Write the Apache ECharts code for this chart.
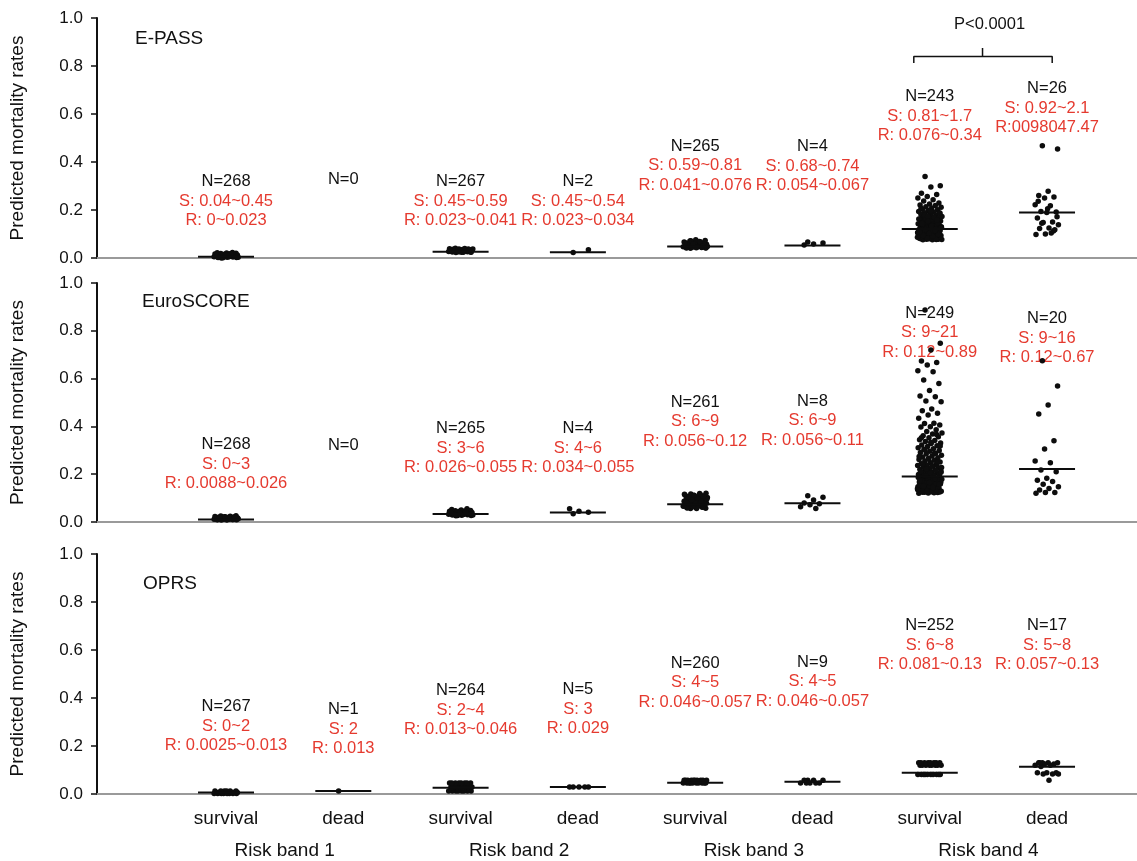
<!DOCTYPE html>
<html><head><meta charset="utf-8">
<script src="https://cdn.jsdelivr.net/npm/echarts@6/dist/echarts.min.js"></script>
<style>html,body{margin:0;padding:0;background:#fff}#c{width:1137px;height:861px}</style>
</head><body><div id="c"></div>
<script>
// ---------- DATA ----------
const categories = ['survival','dead','survival','dead','survival','dead','survival','dead'];
const bandLabels = ['Risk band 1','Risk band 2','Risk band 3','Risk band 4'];
const panelTitles = ['E-PASS','EuroSCORE','OPRS'];
const yAxisTitle = 'Predicted mortality rates';
const pText = 'P<0.0001';

// E-PASS
const epS1 = [0.000,0.002,0.003,0.004,0.004,0.005,0.005,0.006,0.006,0.007,0.008,0.009,0.010,0.011,0.012,0.013,0.014,0.015,0.016,0.017,0.018,0.019,0.020,0.021,0.022,0.023,0.001,0.003,0.005,0.007,0.009,0.012,0.015,0.018,0.004,0.006,0.011,0.002];
const epD1 = [];
const epS2 = [0.023,0.024,0.024,0.025,0.026,0.026,0.027,0.028,0.028,0.029,0.030,0.031,0.032,0.033,0.034,0.035,0.036,0.037,0.038,0.039,0.040,0.041,0.025,0.027,0.029,0.031,0.034,0.037,0.024,0.028,0.033,0.026];
const epD2 = [0.023,0.034];
const epS3 = [0.041,0.042,0.043,0.044,0.045,0.046,0.047,0.048,0.049,0.050,0.051,0.052,0.054,0.055,0.057,0.059,0.061,0.063,0.065,0.067,0.069,0.071,0.073,0.076,0.042,0.044,0.046,0.048,0.050,0.053,0.056,0.060,0.064,0.068,0.072,0.043,0.045,0.047,0.049,0.058];
const epD3 = [0.067,0.062,0.058,0.054];
const epS4 = [0.340,0.301,0.296,0.270,0.265,0.256,0.250,0.243,0.237,0.229,0.225,0.221,0.219,0.214,0.211,0.208,0.203,0.201,0.198,0.194,0.192,0.189,0.186,0.184,0.181,0.179,0.176,0.173,0.171,0.168,0.167,0.164,0.161,0.159,0.157,0.154,0.152,0.150,0.148,0.146,0.143,0.142,0.139,0.137,0.135,0.134,0.131,0.129,0.128,0.125,0.124,0.122,0.120,0.119,0.117,0.116,0.114,0.112,0.111,0.109,0.108,0.106,0.105,0.103,0.102,0.100,0.099,0.097,0.096,0.094,0.093,0.091,0.090,0.088,0.087,0.085,0.084,0.083,0.081,0.080,0.079,0.078,0.077,0.076,0.076,0.078,0.080,0.082,0.085,0.087,0.089,0.092,0.095,0.097,0.101,0.104,0.107,0.110,0.113,0.115,0.118,0.121,0.126,0.130,0.136,0.141,0.147,0.153,0.162,0.170,0.178,0.188,0.196,0.207,0.077,0.083,0.086,0.091,0.094,0.098,0.103,0.108,0.114,0.119,0.124,0.133,0.144,0.158,0.174];
const epD4 = [0.468,0.454,0.278,0.260,0.254,0.250,0.222,0.218,0.194,0.192,0.190,0.167,0.150,0.148,0.139,0.125,0.123,0.118,0.100,0.098,0.104,0.145,0.172,0.205,0.236,0.112];
const epMedian = [0.005,null,0.026,0.024,0.048,0.052,0.121,0.190];
const epN = [268,0,267,2,265,4,243,26];
const epS = ['S: 0.04~0.45','','S: 0.45~0.59','S: 0.45~0.54','S: 0.59~0.81','S: 0.68~0.74','S: 0.81~1.7','S: 0.92~2.1'];
const epR = ['R: 0~0.023','','R: 0.023~0.041','R: 0.023~0.034','R: 0.041~0.076','R: 0.054~0.067','R: 0.076~0.34','R:0098047.47'];

// EuroSCORE
const euS1 = [0.0088,0.009,0.0095,0.010,0.0105,0.011,0.0115,0.012,0.0125,0.013,0.014,0.015,0.016,0.017,0.018,0.019,0.020,0.021,0.022,0.023,0.024,0.025,0.026,0.0092,0.0098,0.0108,0.0122,0.0135,0.0155,0.0175,0.0195,0.0215];
const euD1 = [];
const euS2 = [0.026,0.027,0.028,0.029,0.030,0.031,0.032,0.033,0.034,0.035,0.036,0.037,0.038,0.039,0.040,0.041,0.042,0.043,0.044,0.045,0.046,0.047,0.048,0.050,0.052,0.055,0.027,0.029,0.031,0.033,0.035,0.038,0.041,0.044,0.028,0.032];
const euD2 = [0.034,0.041,0.045,0.055];
const euS3 = [0.056,0.058,0.060,0.061,0.063,0.064,0.066,0.067,0.069,0.070,0.072,0.073,0.075,0.076,0.078,0.079,0.081,0.083,0.085,0.087,0.089,0.091,0.093,0.095,0.097,0.099,0.101,0.103,0.105,0.107,0.109,0.111,0.113,0.115,0.117,0.120,0.057,0.059,0.062,0.065,0.068,0.071,0.074,0.077,0.080,0.084,0.088,0.092,0.096,0.100,0.104,0.108,0.112,0.116,0.119];
const euD3 = [0.110,0.104,0.092,0.080,0.076,0.072,0.064,0.056];
const euS4 = [0.887,0.748,0.720,0.674,0.667,0.657,0.633,0.629,0.594,0.580,0.550,0.527,0.524,0.506,0.503,0.473,0.466,0.455,0.448,0.434,0.413,0.412,0.406,0.399,0.398,0.386,0.379,0.372,0.368,0.361,0.357,0.352,0.344,0.341,0.337,0.331,0.328,0.322,0.319,0.316,0.311,0.307,0.304,0.299,0.296,0.291,0.288,0.284,0.279,0.276,0.272,0.269,0.266,0.262,0.258,0.255,0.251,0.248,0.244,0.241,0.239,0.236,0.233,0.229,0.227,0.224,0.221,0.218,0.215,0.213,0.210,0.207,0.205,0.202,0.199,0.197,0.194,0.192,0.189,0.187,0.184,0.182,0.179,0.177,0.174,0.172,0.169,0.167,0.164,0.162,0.159,0.157,0.154,0.152,0.149,0.147,0.145,0.142,0.140,0.138,0.136,0.133,0.131,0.129,0.127,0.125,0.123,0.121,0.120,0.122,0.124,0.126,0.128,0.131,0.134,0.137,0.139,0.143,0.146,0.149,0.153,0.156,0.160,0.163,0.166,0.171,0.175,0.178,0.183,0.186,0.191,0.195,0.201,0.206,0.211,0.217,0.222,0.228,0.235,0.243,0.252,0.263,0.274,0.287,0.301,0.318,0.334,0.352,0.366,0.128,0.135,0.144,0.151,0.158,0.165,0.173,0.181,0.193,0.208];
const euD4 = [0.675,0.569,0.490,0.452,0.340,0.305,0.255,0.248,0.218,0.210,0.183,0.175,0.169,0.158,0.148,0.140,0.134,0.123,0.123,0.120];
const euMedian = [0.010,null,0.033,0.040,0.074,0.078,0.190,0.222];
const euN = [268,0,265,4,261,8,249,20];
const euS = ['S: 0~3','','S: 3~6','S: 4~6','S: 6~9','S: 6~9','S: 9~21','S: 9~16'];
const euR = ['R: 0.0088~0.026','','R: 0.026~0.055','R: 0.034~0.055','R: 0.056~0.12','R: 0.056~0.11','R: 0.12~0.89','R: 0.12~0.67'];

// OPRS
const opS1 = [0.0025,0.0025,0.0025,0.0025,0.0025,0.0025,0.0025,0.0025,0.006,0.006,0.006,0.006,0.006,0.006,0.006,0.006,0.006,0.006,0.013,0.013,0.013,0.013,0.013,0.013];
const opD1 = [0.013];
const opS2 = [0.013,0.013,0.013,0.013,0.013,0.013,0.013,0.013,0.029,0.029,0.029,0.029,0.029,0.029,0.029,0.029,0.029,0.029,0.046,0.046,0.046,0.046,0.046,0.046,0.046,0.046];
const opD2 = [0.029,0.029,0.029,0.029,0.029];
const opS3 = [0.046,0.046,0.046,0.046,0.046,0.046,0.046,0.046,0.046,0.046,0.057,0.057,0.057,0.057,0.057,0.057,0.057,0.057,0.057,0.057];
const opD3 = [0.057,0.057,0.057,0.057,0.046,0.046,0.046,0.046,0.046];
const opS4 = [0.081,0.081,0.081,0.081,0.081,0.081,0.081,0.081,0.081,0.081,0.12,0.12,0.12,0.12,0.12,0.12,0.12,0.12,0.13,0.13,0.13,0.13,0.13,0.13,0.13,0.13];
const opD4 = [0.130,0.130,0.130,0.130,0.125,0.125,0.120,0.120,0.115,0.089,0.089,0.089,0.083,0.083,0.083,0.057,0.130];
const opMedian = [0.006,0.013,0.026,0.029,0.047,0.051,0.089,0.114];
const opN = [267,1,264,5,260,9,252,17];
const opS = ['S: 0~2','S: 2','S: 2~4','S: 3','S: 4~5','S: 4~5','S: 6~8','S: 5~8'];
const opR = ['R: 0.0025~0.013','R: 0.013','R: 0.013~0.046','R: 0.029','R: 0.046~0.057','R: 0.046~0.057','R: 0.081~0.13','R: 0.057~0.13'];

// ---------- LAYOUT (annotation anchors in axis units, not data) ----------
const epLabY = [0.236,0.326,0.236,0.236,0.385,0.382,0.590,0.625];
const euLabY = [0.241,0.319,0.308,0.308,0.420,0.424,0.792,0.769];
const opLabY = [0.283,0.271,0.350,0.354,0.464,0.468,0.621,0.621];

const FONT = '"Liberation Sans", Arial, Helvetica, sans-serif';
const INK = '#111111', RED = '#e53a2f', DOT = '#0d0d0d';
const XMIN = -1.1, XMAX = 7.767, JIT = 0.21;
const gridTops = [18, 283, 554], gridHeights = [240, 239, 240];
const titlePos = [[135,29],[142,292],[143,574]];

function jx(g, k) { return g + ((((k + 0.5) * 0.618034) % 1) - 0.5) * JIT; }

const panels = [
  {groups:[epS1,epD1,epS2,epD2,epS3,epD3,epS4,epD4], med:epMedian, N:epN, S:epS, R:epR, lab:epLabY},
  {groups:[euS1,euD1,euS2,euD2,euS3,euD3,euS4,euD4], med:euMedian, N:euN, S:euS, R:euR, lab:euLabY},
  {groups:[opS1,opD1,opS2,opD2,opS3,opD3,opS4,opD4], med:opMedian, N:opN, S:opS, R:opR, lab:opLabY}
];

const txt = (size, color) => ({fontSize:size, color:color, fontFamily:FONT, textBorderWidth:0, textBorderColor:'transparent', textShadowBlur:0, opacity:1});

const grid = [], xAxis = [], yAxis = [], series = [], title = [];
panels.forEach((p, i) => {
  grid.push({left:92, right:0, top:gridTops[i], height:gridHeights[i]});
  title.push({text:panelTitles[i], left:titlePos[i][0], top:titlePos[i][1], padding:0,
    textStyle:Object.assign(txt(19, INK), {fontWeight:'normal'})});
  xAxis.push({type:'value', gridIndex:i, min:XMIN, max:XMAX,
    axisLine:{show:true, lineStyle:{color:'#9a9a9a', width:2}},
    axisTick:{show:false}, splitLine:{show:false},
    axisLabel: i === 2 ? Object.assign({show:true, customValues:[0,1,2,3,4,5,6,7],
      formatter:(v) => categories[Math.round(v)], margin:15}, txt(19, INK))
      : {show:false}});
  yAxis.push({type:'value', gridIndex:i, min:0, max:1, interval:0.2,
    name:yAxisTitle, nameLocation:'middle', nameGap:70,
    nameTextStyle:txt(19, INK),
    axisLine:{show:true, onZero:false, lineStyle:{color:'#111', width:2}},
    axisTick:{show:true, length:6, lineStyle:{color:'#111', width:1.5}},
    axisLabel:Object.assign({margin:14, formatter:(v) => v.toFixed(1)}, txt(17, INK)),
    splitLine:{show:false}});

  const pts = [];
  p.groups.forEach((arr, g) => arr.forEach((v, k) => pts.push([jx(g, k), v])));
  series.push({type:'scatter', xAxisIndex:i, yAxisIndex:i, data:pts, symbolSize:5.5,
    itemStyle:{color:DOT, opacity:1}, z:3, silent:true});

  const med = [];
  p.med.forEach((m, g) => { if (m != null) med.push([g, m]); });
  series.push({type:'scatter', xAxisIndex:i, yAxisIndex:i, data:med, symbol:'rect',
    symbolSize:[56,2], itemStyle:{color:DOT, opacity:1}, z:4, silent:true});

  const ann = p.N.map((n, g) => ({
    value:[g, p.lab[g]],
    label:{formatter: n === 0 ? '{n|N=0}' : '{n|N=' + n + '}\n{r|' + p.S[g] + '}\n{r|' + p.R[g] + '}'}
  }));
  series.push({type:'scatter', xAxisIndex:i, yAxisIndex:i, data:ann, symbolSize:1,
    itemStyle:{color:'rgba(255,255,255,0)', opacity:1}, z:2, silent:true,
    label:Object.assign({show:true, position:'inside', align:'center', verticalAlign:'middle',
      rich:{n:Object.assign(txt(16.5, INK), {lineHeight:19.5}),
            r:Object.assign(txt(16.5, RED), {lineHeight:19.5})}}, txt(16.5, INK))});
});

// Risk band axis under bottom panel
xAxis.push({type:'value', gridIndex:2, min:XMIN, max:XMAX, position:'bottom',
  axisLine:{show:false}, axisTick:{show:false}, splitLine:{show:false},
  axisLabel:Object.assign({show:true, customValues:[0.5,2.5,4.5,6.5], formatter:(v) => bandLabels[Math.round((v - 0.5) / 2)],
    margin:47}, txt(19, INK))});

// Significance bracket between band-4 groups in E-PASS panel
const bL = 6 - 0.136, bR = 7 + 0.044, bM = 6.45, yBar = 0.84, yLeg = 0.8125, yTip = 0.875;
series.push({type:'line', xAxisIndex:0, yAxisIndex:0, symbol:'none', silent:true, z:5,
  lineStyle:{color:'#111', width:1.5},
  data:[[bL,yLeg],[bL,yBar],[bM,yBar],[bM,yTip],[bM,yBar],[bR,yBar],[bR,yLeg]]});
series.push({type:'scatter', xAxisIndex:0, yAxisIndex:0, symbolSize:1, silent:true,
  itemStyle:{color:'rgba(255,255,255,0)', opacity:1},
  data:[{value:[6.51, 0.975]}],
  label:Object.assign({show:true, position:'inside', formatter:pText}, txt(16.5, INK))});

const chart = echarts.init(document.getElementById('c'), null, {renderer:'canvas'});
chart.setOption({
  animation:false, backgroundColor:'#ffffff',
  textStyle:{fontFamily:FONT},
  title, grid, xAxis, yAxis, series
});
</script>
</body></html>
